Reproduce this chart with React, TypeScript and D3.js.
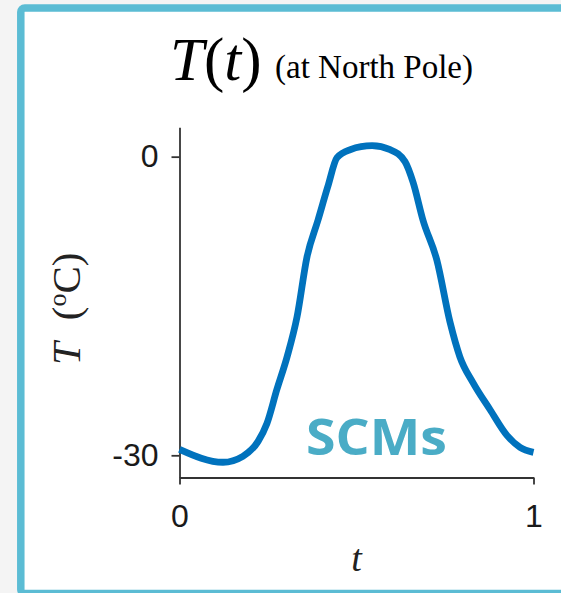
import React, { useRef, useEffect } from "react";
import * as d3 from "d3";

// readings of the curve T(t) at the North Pole
const tValues = [0, 0.123, 0.179, 0.222, 0.247, 0.275, 0.304, 0.332, 0.36, 0.391, 0.419, 0.445, 0.482, 0.544, 0.595, 0.637, 0.66, 0.688, 0.727, 0.764, 0.792, 0.829, 0.877, 0.925, 0.962, 1];
const tempValues = [-29.4, -30.7, -30.1, -28.6, -26.8, -23.4, -20.1, -16.1, -10.1, -6.4, -3.0, -0.1, 0.7, 1.1, 0.7, -0.5, -2.6, -6.4, -10.4, -16.6, -20.1, -22.7, -25.4, -28.0, -29.2, -29.7];
const xTicks = [0, 1];
const yTicks = [-30, 0];

const W = 561;
const H = 593;

function App() {
  const svgRef = useRef(null);

  useEffect(() => {
    const svg = d3.select(svgRef.current);
    svg.selectAll("*").remove();

    // page + card
    svg.append("rect").attr("width", W).attr("height", H).attr("fill", "#f4f4f4");
    svg
      .append("rect")
      .attr("x", 20.8)
      .attr("y", 8)
      .attr("width", 700)
      .attr("height", 585.5)
      .attr("rx", 4)
      .attr("fill", "#fff")
      .attr("stroke", "#5bbcd4")
      .attr("stroke-width", 7.5);

    const x = d3.scaleLinear().domain([0, 1]).range([179.5, 533.5]);
    const y = d3.scaleLinear().domain([-32.23, 2.95]).range([477.5, 127.3]);

    const tickFont = "'Liberation Sans', Arial, Helvetica, sans-serif";

    // y axis
    const gy = svg
      .append("g")
      .attr("transform", `translate(${x(0)},0)`)
      .call(d3.axisLeft(y).tickValues(yTicks).tickSize(8).tickSizeOuter(0).tickPadding(13).tickFormat((d) => String(d)));
    // x axis
    const gx = svg
      .append("g")
      .attr("transform", `translate(0,${y.range()[0]})`)
      .call(d3.axisBottom(x).tickValues(xTicks).tickSize(7).tickSizeOuter(0).tickPadding(20).tickFormat((d) => String(d)));

    [gy, gx].forEach((g) => {
      g.select(".domain").attr("stroke", "#333").attr("stroke-width", 1.8);
      g.selectAll(".tick line").attr("stroke", "#333").attr("stroke-width", 1.8);
      g.selectAll(".tick text")
        .attr("fill", "#1a1a1a")
        .style("font-family", tickFont)
        .style("font-size", "32px");
    });

    // the curve
    const pts = tValues.map((t, i) => [t, tempValues[i]]);
    const line = d3
      .line()
      .curve(d3.curveMonotoneX)
      .x((d) => x(d[0]))
      .y((d) => y(d[1]));
    svg
      .append("path")
      .datum(pts)
      .attr("d", line)
      .attr("fill", "none")
      .attr("stroke", "#0072bd")
      .attr("stroke-width", 6.8)
      .attr("stroke-linejoin", "round");

    const serif = "'Liberation Serif', 'Times New Roman', Times, serif";

    // title
    const title = svg
      .append("text")
      .attr("x", 170)
      .attr("y", 80)
      .style("font-family", serif)
      .style("font-size", "61px")
      .attr("fill", "#000");
    title.append("tspan").style("font-style", "italic").text("T");
    title.append("tspan").text("(");
    title.append("tspan").style("font-style", "italic").text("t");
    title.append("tspan").text(")");
    svg
      .append("text")
      .attr("x", 275)
      .attr("y", 78)
      .style("font-family", serif)
      .style("font-size", "33px")
      .attr("fill", "#000")
      .text("(at North Pole)");

    // y label
    const yl = svg
      .append("text")
      .attr("transform", "translate(80,365) rotate(-90)")
      .style("font-family", serif)
      .style("font-size", "41px")
      .attr("fill", "#222");
    yl.append("tspan").style("font-style", "italic").text("T");
    yl.append("tspan").attr("dx", 22).text("(");
    yl.append("tspan").attr("dy", -14).style("font-size", "26px").text("o");
    yl.append("tspan").attr("dy", 14).text("C)");

    // x label
    svg
      .append("text")
      .attr("x", (x(0) + x(1)) / 2)
      .attr("y", 571)
      .attr("text-anchor", "middle")
      .style("font-family", serif)
      .style("font-size", "38px")
      .style("font-style", "italic")
      .attr("fill", "#222")
      .text("t");

    // SCMs tag
    svg
      .append("text")
      .attr("x", 306)
      .attr("y", 455)
      .attr("textLength", 141)
      .attr("lengthAdjust", "spacingAndGlyphs")
      .style("font-family", "'Open Sans', 'Noto Sans', sans-serif")
      .style("font-weight", "bold")
      .style("font-size", "51px")
      .attr("fill", "#4aacc6")
      .text("SCMs");
  }, []);

  return (
    <svg
      ref={svgRef}
      width={W}
      height={H}
      style={{ position: "absolute", left: 0, top: 0, display: "block" }}
    ></svg>
  );
}

export default App;
